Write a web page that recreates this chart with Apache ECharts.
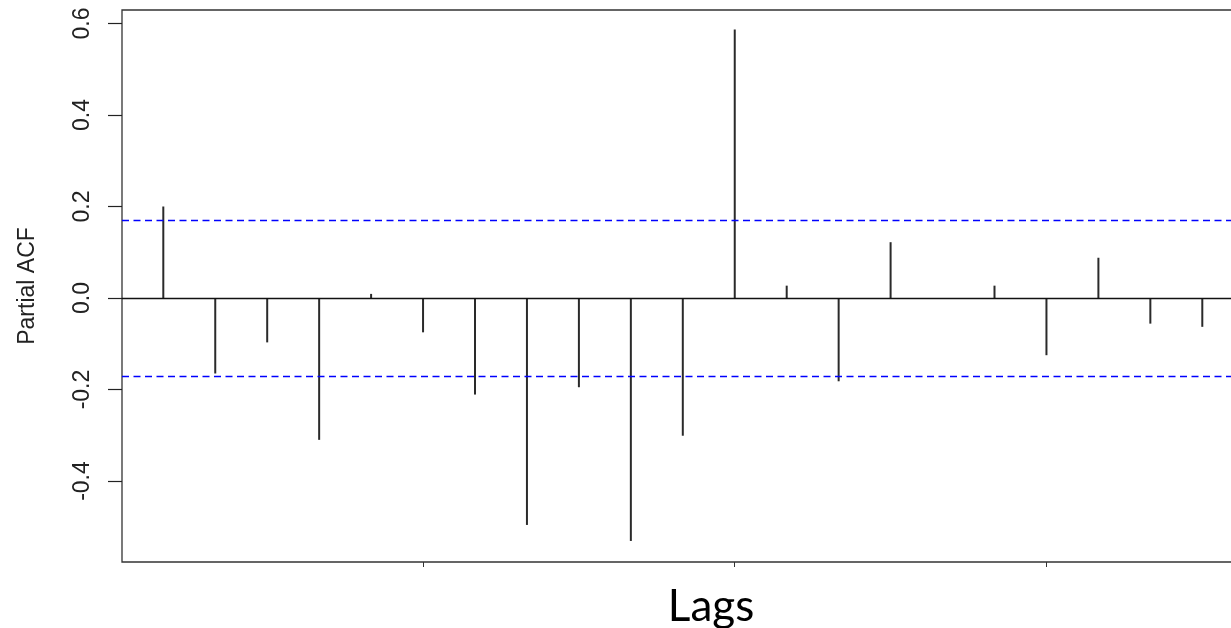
<!DOCTYPE html>
<html>
<head>
<meta charset="utf-8">
<script src="https://cdn.jsdelivr.net/npm/echarts@6/dist/echarts.min.js"></script>
<style>
html,body{margin:0;padding:0;background:#fff;}
#chart{width:1231px;height:628px;}
</style>
</head>
<body>
<div id="chart"></div>
<script>
// ---- data ----
const lags = [1, 2, 3, 4, 5, 6, 7, 8, 9, 10, 11, 12, 13, 14, 15, 16, 17, 18, 19, 20, 21];
const pacf = [0.200, -0.165, -0.097, -0.310, 0.009, -0.075, -0.211, -0.496, -0.195, -0.531, -0.301,
              0.587, 0.027, -0.182, 0.122, 0.000, 0.027, -0.125, 0.088, -0.056, -0.063];
const ciBound = 0.165;
const yTicks = [-0.4, -0.2, 0.0, 0.2, 0.4, 0.6];
const xTicks = [6, 12, 18];
const yTitle = 'Partial ACF';
const xTitle = 'Lags';

const chart = echarts.init(document.getElementById('chart'), null, {renderer: 'canvas'});
const seriesData = lags.map((l, i) => [l, pacf[i]]);

chart.setOption({
  animation: false,
  backgroundColor: '#ffffff',
  grid: {
    left: 122, top: 10, right: -30, bottom: 66,
    show: true, borderColor: '#333', borderWidth: 1.3,
    outerBoundsMode: 'none'
  },
  xAxis: {
    type: 'value',
    min: 0.205, max: 22.13,
    axisLine: {show: false, onZero: false},
    splitLine: {show: false},
    axisTick: {show: true, customValues: xTicks, length: 5, lineStyle: {color: '#333', width: 1}},
    axisLabel: {show: false}
  },
  yAxis: {
    type: 'value',
    min: -0.577, max: 0.6295,
    axisLine: {show: false, onZero: false},
    splitLine: {show: false},
    axisTick: {show: true, customValues: yTicks, length: 14, lineStyle: {color: '#222', width: 1.2}},
    axisLabel: {
      show: true, customValues: yTicks, rotate: 90, margin: 28,
      fontFamily: 'Liberation Sans, Arial, sans-serif', fontSize: 23, color: '#222',
      formatter: v => v.toFixed(1)
    },
    name: yTitle, nameLocation: 'middle', nameRotate: 90, nameGap: 83,
    nameTextStyle: {fontFamily: 'Liberation Sans, Arial, sans-serif', fontSize: 23, color: '#222'}
  },
  series: [{
    type: 'bar',
    data: seriesData,
    barWidth: 2,
    itemStyle: {color: '#2a2a2a'},
    silent: true,
    markLine: {
      silent: true, symbol: 'none', label: {show: false},
      data: [
        {yAxis: 0, lineStyle: {color: '#111', width: 1.4, type: 'solid'}},
        {yAxis: ciBound, lineStyle: {color: '#0000ff', width: 1.3, type: [7, 4.5]}},
        {yAxis: -ciBound, lineStyle: {color: '#0000ff', width: 1.3, type: [7, 4.5]}}
      ]
    }
  }],
  graphic: [{
    type: 'text', x: 711, y: 607,
    style: {
      text: xTitle, font: '44px Lato, "Open Sans", sans-serif', fill: '#000',
      align: 'center', verticalAlign: 'middle'
    }
  }]
});
</script>
</body>
</html>
